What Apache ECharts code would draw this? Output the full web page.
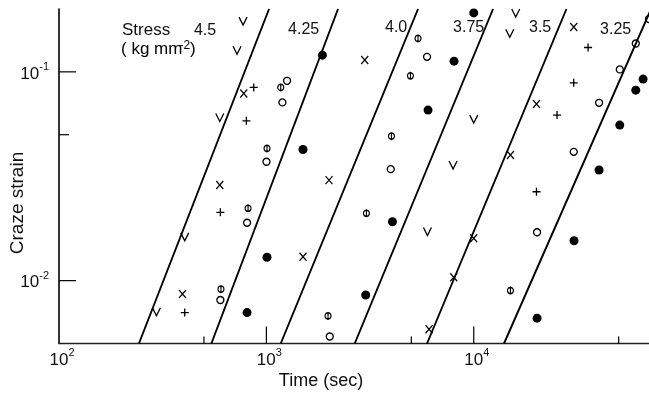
<!DOCTYPE html>
<html>
<head>
<meta charset="utf-8">
<script src="https://cdn.jsdelivr.net/npm/echarts@6/dist/echarts.min.js"></script>
<style>
  html, body { margin: 0; padding: 0; background: #fff; }
  #chart { width: 649px; height: 393px; }
</style>
</head>
<body>
<div id="chart"></div>
<script>
// stress levels (kg mm^-2), one fitted line each
const stressLevels = ['4.5', '4.25', '4.0', '3.75', '3.5', '3.25'];
// time (sec) where each line crosses strain 0.005 and 0.2
const lineTimeLow = [243, 543, 1173, 2667, 5954, 13996];
const lineTimeHigh = [1030, 2216, 5387, 12390, 27990, 71560];
const lineStrainLow = 0.005;
const lineStrainHigh = 0.2;

// where the stress numbers sit
const labelTime = [576, 1808, 4805, 11300, 23770, 57800];
const labelStrain = [0.158, 0.16, 0.163, 0.163, 0.163, 0.16];

// measured points [time sec, craze strain]
const vPoints = [[772, 0.175], [722, 0.127], [596, 0.0605], [404, 0.0162], [295, 0.0071],
  [15940, 0.1915], [14920, 0.153], [10000, 0.0594], [7950, 0.0358], [5980, 0.0172]];
const crossPoints = [[778, 0.0788], [596, 0.0287], [394, 0.00864], [1502, 0.0130], [2005, 0.0303],
  [2981, 0.114], [30350, 0.164], [20070, 0.0701], [15030, 0.040], [10000, 0.01595],
  [8009, 0.01038], [6087, 0.00585]];
const plusPoints = [[869, 0.0842], [801, 0.0583], [600, 0.02125], [404, 0.00703],
  [35580, 0.1308], [30350, 0.0886], [25220, 0.0621], [20070, 0.02665]];
const openPoints = [[1258, 0.0906], [1195, 0.0714], [1001, 0.0371], [807, 0.01894], [600, 0.00808],
  [2021, 0.0054], [5954, 0.118], [3979, 0.0342], [60440, 0.1367], [50600, 0.1027],
  [40210, 0.0711], [30350, 0.0414], [20200, 0.01705], [70000, 0.179]];
const barPoints = [[1173, 0.0842], [1007, 0.043], [816, 0.0222], [604, 0.0091], [1983, 0.00678],
  [5387, 0.1445], [4951, 0.0957], [4010, 0.0492], [3037, 0.0210], [15030, 0.00896]];
const filledPoints = [[1863, 0.1202], [1502, 0.0425], [1007, 0.01294], [807, 0.00703],
  [8035, 0.1125], [6020, 0.0656], [4055, 0.01915], [3013, 0.00854], [10000, 0.1915],
  [65540, 0.0923], [60440, 0.0817], [50600, 0.0556], [40210, 0.0339], [30450, 0.01553],
  [20200, 0.00661]];

// axis ticks
const xTicks = [500, 1000, 5000, 10000, 50000];
const yTicks = [0.01, 0.05, 0.1];
const xMin = 100, xMax = 70000, yMin = 0.005, yMax = 0.2;

const FONT = '"Liberation Sans", Arial, sans-serif';
const INK = '#111';

function isPow10(v) {
  const e = Math.log10(v);
  return Math.abs(e - Math.round(e)) < 1e-6;
}

const richPow = {
  b: { fontSize: 17, fontFamily: FONT, color: INK, lineHeight: 21, verticalAlign: 'bottom' },
  s: { fontSize: 11, fontFamily: FONT, color: INK, lineHeight: 12, verticalAlign: 'top' },
  p: { width: 6 }
};

function powLabel(withPad) {
  return function (v) {
    if (!isPow10(v)) return '';
    const e = Math.round(Math.log10(v));
    return (withPad ? '{p|}' : '') + '{b|10}{s|' + e + '}';
  };
}

function markerSeries(data, symbol, size, filled) {
  return {
    type: 'scatter',
    data: data,
    symbol: symbol,
    symbolSize: size,
    clip: false,
    z: 4,
    itemStyle: {
      opacity: 1,
      color: filled ? '#000' : 'rgba(0,0,0,0)',
      borderColor: '#000',
      borderWidth: filled ? 0 : 1.3
    }
  };
}

const chart = echarts.init(document.getElementById('chart'));

const series = [];

stressLevels.forEach(function (s, i) {
  series.push({
    name: s,
    type: 'line',
    data: [[lineTimeLow[i], lineStrainLow], [lineTimeHigh[i], lineStrainHigh]],
    showSymbol: false,
    clip: true,
    lineStyle: { color: '#000', width: 1.9 },
    z: 3
  });
});

series.push({
  type: 'scatter',
  data: labelTime.map(function (t, i) { return [t, labelStrain[i]]; }),
  symbolSize: 1,
  itemStyle: { color: 'rgba(0,0,0,0)', opacity: 1 },
  label: {
    show: true,
    position: 'left',
    distance: 0,
    formatter: function (p) { return stressLevels[p.dataIndex]; },
    fontFamily: FONT,
    fontSize: 16,
    color: INK
  },
  z: 5
});

series.push(markerSeries(vPoints, 'path://M0,0L5,10L10,0', [8, 8], false));
series.push(markerSeries(crossPoints, 'path://M0,0L10,10M10,0L0,10', [7, 8], false));
series.push(markerSeries(plusPoints, 'path://M5,0L5,10M0,5L10,5', [8, 8], false));
series.push(markerSeries(openPoints, 'circle', 7, false));
series.push(markerSeries(barPoints, 'path://M5,0L5,10M1,5A4,4,0,1,0,9,5A4,4,0,1,0,1,5Z', [6, 8], false));
series.push(markerSeries(filledPoints, 'circle', 9, true));

// tick marks drawn inside the frame
series.push({
  type: 'custom',
  data: xTicks.map(function (t) { return [t, yMin]; }),
  clip: false,
  silent: true,
  z: 6,
  renderItem: function (params, api) {
    const t = api.value(0);
    const p = api.coord([t, api.value(1)]);
    const len = isPow10(t) ? 17 : 7;
    return {
      type: 'line',
      shape: { x1: p[0], y1: p[1], x2: p[0], y2: p[1] - len },
      style: { stroke: '#000', lineWidth: 1.2 }
    };
  }
});
series.push({
  type: 'custom',
  data: yTicks.map(function (s) { return [xMin, s]; }),
  clip: false,
  silent: true,
  z: 6,
  renderItem: function (params, api) {
    const s = api.value(1);
    const p = api.coord([api.value(0), s]);
    const len = isPow10(s) ? 17 : 10;
    return {
      type: 'line',
      shape: { x1: p[0], y1: p[1], x2: p[0] + len, y2: p[1] },
      style: { stroke: '#000', lineWidth: 1.2 }
    };
  }
});

chart.setOption({
  animation: false,
  backgroundColor: '#fff',
  grid: { left: 59, right: 0, top: 9, bottom: 49.5, containLabel: false, outerBoundsMode: 'none' },
  xAxis: {
    type: 'log',
    logBase: 10,
    min: xMin,
    max: xMax,
    axisLine: { show: true, lineStyle: { color: '#222', width: 1.3 } },
    axisTick: { show: false },
    minorTick: { show: false },
    splitLine: { show: false },
    axisLabel: { formatter: powLabel(true), rich: richPow, margin: 4 }
  },
  yAxis: {
    type: 'log',
    logBase: 10,
    min: yMin,
    max: yMax,
    axisLine: { show: true, lineStyle: { color: '#000', width: 1.6 } },
    axisTick: { show: false },
    minorTick: { show: false },
    splitLine: { show: false },
    axisLabel: { formatter: powLabel(false), rich: richPow, margin: 10 }
  },
  graphic: [
    {
      type: 'text', x: 18, y: 203, rotation: Math.PI / 2,
      style: { text: 'Craze strain', font: '19px ' + FONT, fill: INK, align: 'center', verticalAlign: 'middle' }
    },
    {
      type: 'text', x: 321, y: 381,
      style: { text: 'Time (sec)', font: '18px ' + FONT, fill: INK, align: 'center', verticalAlign: 'middle' }
    },
    {
      type: 'text', x: 122, y: 30,
      style: { text: 'Stress', font: '17px ' + FONT, fill: INK, align: 'left', verticalAlign: 'middle' }
    },
    {
      type: 'text', x: 121, y: 40,
      style: {
        text: '{a|( kg mm}{s|-2}{a|)}',
        align: 'left',
        verticalAlign: 'top',
        rich: {
          a: { fontSize: 17, fontFamily: FONT, color: INK, lineHeight: 18, verticalAlign: 'bottom' },
          s: { fontSize: 12, fontFamily: FONT, color: INK, lineHeight: 12, verticalAlign: 'top', padding: [0, 0, 0, -3] }
        }
      }
    }
  ],
  series: series
});
</script>
</body>
</html>
